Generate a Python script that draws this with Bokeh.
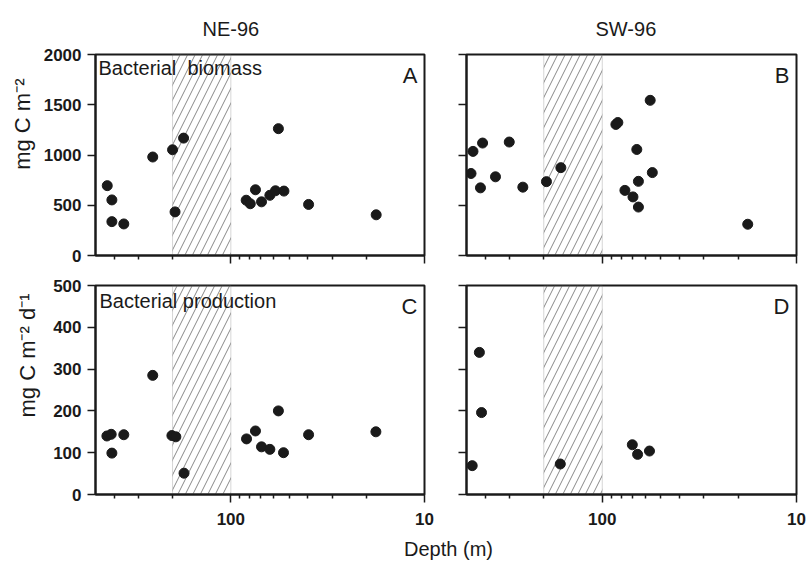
import math
from bokeh.plotting import figure
from bokeh.models import Range1d, FixedTicker, Label, BoxAnnotation, Title
from bokeh.layouts import column, row
from bokeh.embed import file_html
from bokeh.resources import INLINE

# ---------------- data ----------------
ne_bm_depth = [23, 24.3, 24.3, 28, 39.5, 50, 57, 51.5, 120, 126, 134, 144, 159, 170, 188, 176, 252, 563]
ne_bm = [695, 553, 337, 314, 980, 1052, 1168, 434, 550, 515, 654, 534, 599, 644, 641, 1262, 508, 405]

sw_bm_depth = [21.1, 21.6, 24.2, 23.6, 28.2, 33.2, 39, 51.6, 61.2, 117.5, 120.3, 176.5, 150.6, 130.8, 143.9, 153.5, 153.5, 181, 561]
sw_bm = [816, 1036, 1119, 673, 783, 1129, 680, 735, 874, 1304, 1323, 1544, 1055, 648, 583, 738, 482, 825, 311]

ne_bp_depth = [22.9, 24.1, 24.3, 28, 39.5, 49.6, 52, 57.3, 120.5, 134, 144, 159, 187, 176, 252, 561]
ne_bp = [140, 144, 99, 143, 285, 141, 138, 51, 133, 152, 114, 108, 100, 200, 143, 150]

sw_bp_depth = [23.3, 23.9, 21.4, 60.8, 142.8, 152, 175]
sw_bp = [340, 196, 69, 73, 119, 96, 104]

hatch_zone = [50, 100]          # depth band shown hatched
x_limits = [20, 1000]
x_major = [100, 1000]
x_major_labels = {100: "100", 1000: "10"}
x_minor = [25, 100 / 3, 50, 1000 / 9, 125, 1000 / 7, 1000 / 6, 200, 250, 1000 / 3, 500]
bm_ticks = [0, 500, 1000, 1500, 2000]
bp_ticks = [0, 100, 200, 300, 400, 500]

FONT = "Liberation Sans"
INK = "#1a1a1a"


def make_panel(xs, ys, yticks, letter, width, height, mbl, mbr, mbt, mbb,
               show_y_labels, show_x_labels):
    p = figure(width=width, height=height, x_axis_type="log",
               x_range=Range1d(*x_limits), y_range=Range1d(yticks[0], yticks[-1]),
               output_backend="svg", toolbar_location=None,
               min_border_left=mbl, min_border_right=mbr,
               min_border_top=mbt, min_border_bottom=mbb,
               background_fill_color="white", border_fill_color="white",
               outline_line_color=INK, outline_line_width=2)
    p.grid.visible = False

    box = BoxAnnotation(left=hatch_zone[0], right=hatch_zone[1],
                        fill_alpha=0, line_color="#777777", line_width=1,
                        hatch_pattern="/", hatch_color="#555555",
                        hatch_weight=0.7, hatch_scale=15, level="underlay")
    p.add_layout(box)

    p.scatter(xs, ys, size=10, color=INK, line_color=INK)

    xa = p.xaxis[0]
    xa.ticker = FixedTicker(ticks=x_major, minor_ticks=x_minor)
    xa.axis_line_width = 2
    xa.axis_line_color = INK
    xa.major_tick_out = 8
    xa.major_tick_in = 0
    xa.minor_tick_out = 4
    xa.minor_tick_in = 0
    xa.major_tick_line_width = 1.5
    xa.minor_tick_line_width = 1.5
    xa.major_tick_line_color = INK
    xa.minor_tick_line_color = INK
    xa.major_label_text_font = FONT
    xa.major_label_text_font_style = "bold"
    xa.major_label_text_font_size = "17px"
    xa.major_label_text_color = INK
    xa.major_label_standoff = 10
    if show_x_labels:
        xa.major_label_overrides = x_major_labels
    else:
        xa.major_label_overrides = {t: "" for t in x_major}

    ya = p.yaxis[0]
    ya.ticker = FixedTicker(ticks=yticks, minor_ticks=[])
    ya.axis_line_width = 2
    ya.axis_line_color = INK
    ya.major_tick_out = 8
    ya.major_tick_in = 0
    ya.major_tick_line_width = 1.5
    ya.major_tick_line_color = INK
    ya.major_label_text_font = FONT
    ya.major_label_text_font_style = "bold"
    ya.major_label_text_font_size = "17px"
    ya.major_label_text_color = INK
    ya.major_label_standoff = 6
    if not show_y_labels:
        ya.major_label_overrides = {t: "" for t in yticks}

    p.add_layout(Label(x=x_limits[1], y=yticks[-1], x_offset=-7, y_offset=-8,
                       text=letter, text_align="right", text_baseline="top",
                       text_font=FONT, text_font_size="22px", text_color=INK))
    return p


# page has no margin: frames at A x 95-424, B x 466-796; top row y 49-255, bottom row y 285-494
pA = make_panel(ne_bm_depth, ne_bm, bm_ticks, "A", 445, 270, 95, 21, 49, 15, True, False)
pB = make_panel(sw_bm_depth, sw_bm, bm_ticks, "B", 361, 270, 21, 10, 49, 15, False, False)
pC = make_panel(ne_bp_depth, ne_bp, bp_ticks, "C", 445, 263, 95, 21, 15, 39, True, True)
pD = make_panel(sw_bp_depth, sw_bp, bp_ticks, "D", 361, 263, 21, 10, 15, 39, False, True)

# column titles
pA.add_layout(Title(text="NE-96", align="left", offset=107, standoff=30,
                    text_font=FONT, text_font_size="20px", text_font_style="normal",
                    text_color=INK), "above")
pB.add_layout(Title(text="SW-96", align="left", offset=129, standoff=30,
                    text_font=FONT, text_font_size="20px", text_font_style="normal",
                    text_color=INK), "above")

# in-panel captions
pA.add_layout(Label(x=20, y=2000, x_offset=3, y_offset=-2, text="Bacterial\u00a0 biomass",
                    text_align="left", text_baseline="top",
                    text_font=FONT, text_font_size="20px", text_color=INK))
pC.add_layout(Label(x=20, y=500, x_offset=4, y_offset=-4, text="Bacterial production",
                    text_align="left", text_baseline="top",
                    text_font=FONT, text_font_size="20px", text_color=INK))

# y-axis titles (rotated, placed toward top of each frame)
pA.add_layout(Title(text="mg C m\u207b\u00b2", align="right", offset=24, standoff=11,
                    text_font=FONT, text_font_size="22px", text_font_style="normal",
                    text_color=INK), "left")
pC.add_layout(Title(text="mg C m\u207b\u00b2 d\u207b\u00b9", align="right", offset=8, standoff=21,
                    text_font=FONT, text_font_size="22px", text_font_style="normal",
                    text_color=INK), "left")

# shared x-axis title
px = figure(width=806, height=30, x_range=Range1d(0, 806), y_range=Range1d(0, 1),
            output_backend="svg", toolbar_location=None,
            x_axis_location=None, y_axis_location=None, min_border=0,
            outline_line_color=None, background_fill_color="white",
            border_fill_color="white")
px.grid.visible = False
px.add_layout(Label(x=448, y=0.5, text="Depth (m)", text_align="center",
                    text_baseline="middle", text_font=FONT,
                    text_font_size="20px", text_color=INK))

layout = column(row(pA, pB), row(pC, pD), px)

open("out.html", "w").write(file_html(layout, INLINE))
